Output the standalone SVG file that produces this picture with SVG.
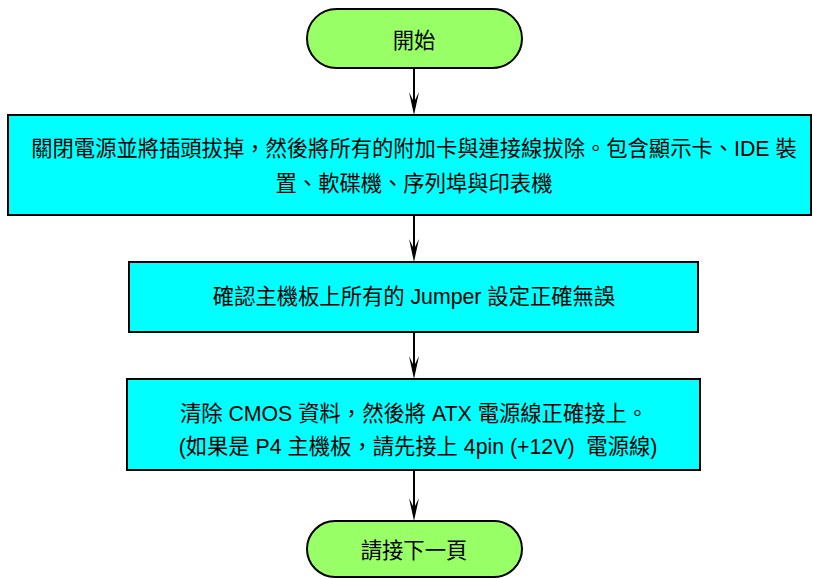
<svg xmlns="http://www.w3.org/2000/svg" width="813" height="579" viewBox="0 0 813 579">
<style>
.term{fill:#99FF66;stroke:#000;stroke-width:2}
.proc{fill:#00FFFF;stroke:#000;stroke-width:2}
.t{font-family:"Liberation Sans","Noto Sans CJK TC",sans-serif;font-size:21.3px;fill:#000;text-anchor:middle;white-space:pre}
.c{stroke:#000;stroke-width:2;fill:none}
.ah{fill:#000;stroke:none}
</style>
<rect width="813" height="579" fill="#fff"/>
<g id="connectors">
<line class="c" x1="414" y1="68" x2="414" y2="105"/>
<path class="ah" d="M414,115 L409,92 L414,102 L419,92 Z"/>
<line class="c" x1="414" y1="215" x2="414" y2="252"/>
<path class="ah" d="M414,262 L409,239 L414,249 L419,239 Z"/>
<line class="c" x1="414" y1="332" x2="414" y2="369"/>
<path class="ah" d="M414,379 L409,356 L414,366 L419,356 Z"/>
<line class="c" x1="414" y1="470" x2="414" y2="511"/>
<path class="ah" d="M414,521 L409,498 L414,508 L419,498 Z"/>
</g>
<g id="start">
<rect class="term" x="307" y="9" width="215" height="59" rx="29.5" ry="29.5"/>
<text class="t" x="414" y="48">開始</text>
</g>
<g id="step1">
<rect class="proc" x="8" y="115" width="803" height="100"/>
<text class="t" x="414" y="156">關閉電源並將插頭拔掉，然後將所有的附加卡與連接線拔除。包含顯示卡、IDE 裝</text>
<text class="t" x="414" y="191">置、軟碟機、序列埠與印表機</text>
</g>
<g id="step2">
<rect class="proc" x="129" y="262" width="569" height="70"/>
<text class="t" x="414" y="304">確認主機板上所有的 Jumper 設定正確無誤</text>
</g>
<g id="step3">
<rect class="proc" x="127" y="379" width="573" height="91"/>
<text class="t" x="414" y="421">清除 CMOS 資料，然後將 ATX 電源線正確接上。</text>
<text class="t" x="418" y="454">(如果是 P4 主機板，請先接上 4pin (+12V)  電源線)</text>
</g>
<g id="end">
<rect class="term" x="307" y="521" width="215" height="56" rx="28" ry="28"/>
<text class="t" x="414" y="558">請接下一頁</text>
</g>
</svg>
